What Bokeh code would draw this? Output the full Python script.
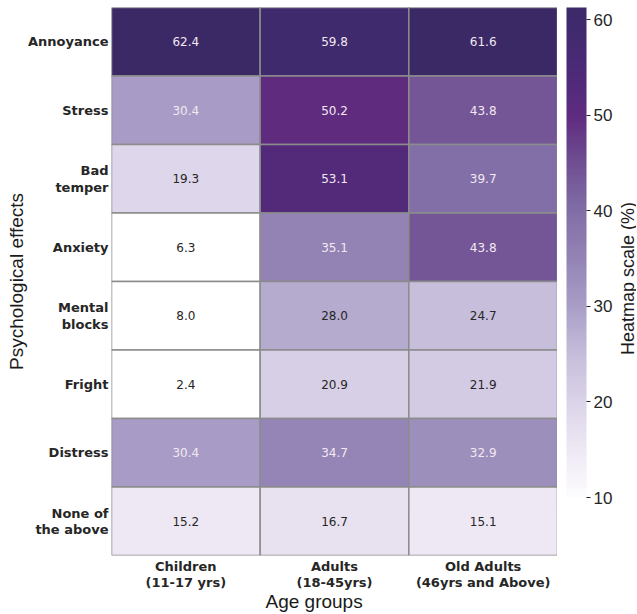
import math
from bokeh.plotting import figure
from bokeh.layouts import row
from bokeh.models import (ColumnDataSource, LinearColorMapper, ColorBar, FixedTicker,
                          FactorRange, Label, Range1d, Title)
from bokeh.transform import transform
from bokeh.embed import file_html
from bokeh.resources import INLINE
from bokeh.core.properties import value

# ---- data ----
effects = ["Annoyance", "Stress", "Bad\ntemper", "Anxiety", "Mental\nblocks",
           "Fright", "Distress", "None of\nthe above"]
groups = ["Children\n(11-17 yrs)", "Adults\n(18-45yrs)", "Old Adults\n(46yrs and Above)"]
children = [62.4, 30.4, 19.3, 6.3, 8.0, 2.4, 30.4, 15.2]
adults = [59.8, 50.2, 53.1, 35.1, 28.0, 20.9, 34.7, 16.7]
old_adults = [61.6, 43.8, 39.7, 43.8, 24.7, 21.9, 32.9, 15.1]
cbar_ticks = [10, 20, 30, 40, 50, 60]
scale_low, scale_high = 10, 61.3

# ---- colormap (style) ----
anchors = [(10, "#fdfcfe"), (15, "#eee8f4"), (20, "#dbd3e8"), (25, "#c6bddb"),
           (30, "#a99ec7"), (35, "#9484b5"), (40, "#816ea7"), (45, "#704f92"),
           (50, "#5f2b7f"), (55, "#4b2a76"), (60, "#3e2a6c"), (61.3, "#3c2a68")]

def hex2rgb(h):
    return tuple(int(h[i:i + 2], 16) for i in (1, 3, 5))

palette = []
N = 256
for i in range(N):
    v = scale_low + (scale_high - scale_low) * i / (N - 1)
    for (v0, c0), (v1, c1) in zip(anchors[:-1], anchors[1:]):
        if v0 <= v <= v1:
            t = (v - v0) / (v1 - v0)
            a, b = hex2rgb(c0), hex2rgb(c1)
            rgb = tuple(round(a[k] + (b[k] - a[k]) * t) for k in range(3))
            palette.append("#%02x%02x%02x" % rgb)
            break

mapper = LinearColorMapper(palette=palette, low=scale_low, high=scale_high,
                           low_color="#ffffff", high_color="#3b2966")

xs, ys, vals, txt, tcol = [], [], [], [], []
for g, series in zip(groups, [children, adults, old_adults]):
    for e, v in zip(effects, series):
        xs.append(g)
        ys.append(e)
        vals.append(v)
        txt.append(f"{v:.1f}")
        tcol.append("#f3e8f1" if v > 29 else "#262626")

src = ColumnDataSource(dict(x=xs, y=ys, v=vals, t=txt, c=tcol))

lab_font = "Liberation Sans"
TOP, BOTTOM = 7, 59

p = figure(width=557, height=614, output_backend="svg", toolbar_location=None,
           x_range=FactorRange(factors=groups),
           y_range=FactorRange(factors=list(reversed(effects))),
           min_border_left=111, min_border_right=0, min_border_top=TOP, min_border_bottom=BOTTOM)

p.rect(x="x", y="y", width=1, height=1, source=src,
       fill_color=transform("v", mapper), line_color="#8c8c8c", line_width=1.5)
p.text(x="x", y="y", text="t", source=src, text_color="c",
       text_align="center", text_baseline="middle",
       text_font=value("DejaVu Sans"), text_font_size="12px")

p.outline_line_color = None
p.grid.grid_line_color = None
p.background_fill_color = None
p.border_fill_color = None

for ax in (p.xaxis, p.yaxis):
    ax.axis_line_color = None
    ax.major_tick_line_color = None
    ax.minor_tick_line_color = None
    ax.major_tick_out = 0
    ax.major_tick_in = 0
    ax.minor_tick_out = 0
    ax.minor_tick_in = 0
    ax.major_label_text_font = "DejaVu Sans"
    ax.major_label_text_font_style = "bold"
    ax.major_label_text_font_size = "13px"
    ax.major_label_text_color = "#262626"
    ax.major_label_text_line_height = 1.1
    ax.axis_label_text_font = lab_font
    ax.axis_label_text_font_style = "normal"
    ax.axis_label_text_font_size = "19px"
    ax.axis_label_text_color = "#1a1a1a"
p.xaxis.major_label_standoff = 3
p.yaxis.major_label_standoff = 3
p.yaxis.axis_label = "Psychological effects"
p.yaxis.axis_label_standoff = -2

p.add_layout(Title(text="Age groups", align="left", offset=154,
                   text_font=lab_font, text_font_style="normal", text_font_size="19px",
                   text_color="#1a1a1a", standoff=-10), "below")

# ---- colour-bar panel (frame aligned with the heatmap frame: page y 7..555) ----
side = figure(width=79, height=614, output_backend="svg", toolbar_location=None,
              x_range=Range1d(0, 79), y_range=Range1d(555, 7),
              x_axis_type=None, y_axis_type=None,
              min_border_left=0, min_border_right=0, min_border_top=TOP, min_border_bottom=BOTTOM)
side.outline_line_color = None
side.grid.grid_line_color = None
side.background_fill_color = None
side.border_fill_color = None

cb = ColorBar(color_mapper=mapper, width=20, height=490, location=(9, 58),
              margin=0, padding=0,
              ticker=FixedTicker(ticks=cbar_ticks),
              major_label_text_font=lab_font, major_label_text_font_size="17px",
              major_label_text_color="#262626",
              major_tick_line_color="#262626", major_tick_in=0, major_tick_out=4,
              minor_tick_line_color=None, bar_line_color=None, label_standoff=3,
              background_fill_color=None, border_line_color=None)
side.add_layout(cb, "center")
side.add_layout(Label(x=70, y=278, text="Heatmap scale (%)", angle=math.pi / 2,
                      text_align="center", text_baseline="middle",
                      text_font=lab_font, text_font_size="18px", text_color="#1a1a1a"))

layout = row(p, side, spacing=0)
open("out.html", "w").write(file_html(layout, INLINE))
